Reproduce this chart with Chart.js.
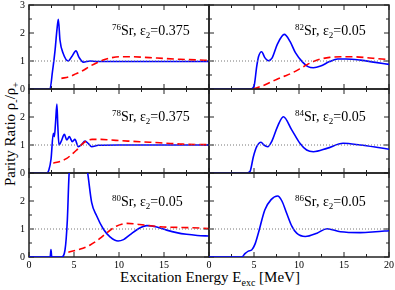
<!DOCTYPE html>
<html>
<head>
<meta charset="utf-8">
<script src="https://cdn.jsdelivr.net/npm/chart.js@4.4.0/dist/chart.umd.min.js"></script>
<style>
   body { margin: 0; background: #fff; }
   #app { position: relative; width: 395px; height: 290px; overflow: hidden; font-family: 'Liberation Serif', serif; color: #000; }
   canvas { position: absolute; left: -20px; top: -20px; }
   .lbl { position: absolute; font-size: 14px; line-height: 1; white-space: nowrap; }
   .lbl sup { font-size: 9px; vertical-align: 5px; }
   .lbl sub { font-size: 9px; vertical-align: -3px; }
   #xtitle { position: absolute; left: 0; width: 420px; text-align: center; top: 270px; font-size: 15px; line-height: 1; }
   #xtitle sub { font-size: 10px; vertical-align: -4px; }
   #ytitle { position: absolute; left: 12px; top: 134px; width: 200px; margin-left: -100px; text-align: center; font-size: 15px; line-height: 1; transform: translateY(-50%) rotate(-90deg); }
   #ytitle sub { font-size: 10px; vertical-align: -4px; }
</style>
</head>
<body>
<div id="app">
   <div id="xtitle">Excitation Energy E<sub>exc</sub> [MeV]</div>
   <div id="ytitle">Parity Ratio &rho;<sub>-</sub>/&rho;<sub>+</sub></div>
</div>
<script>
// 76Sr
const sr76E = [0, 2.33, 2.6, 2.9, 3.1, 3.26, 3.44, 3.8, 4.37, 4.74, 5.22, 5.56, 6.04, 6.8, 7.5, 10, 14, 20];
const sr76Blue = [0, 0, 0.6, 1.4, 2.1, 2.49, 1.75, 1.27, 1.0, 1.15, 1.36, 1.13, 0.96, 1.0, 0.98, 0.98, 0.98, 0.98];
const sr76RedE = [3.6, 4.5, 5.2, 6.0, 6.7, 7.5, 8.4, 9.2, 10, 11.5, 13.4, 15, 16.8, 18.5, 20];
const sr76Red = [0.38, 0.44, 0.54, 0.66, 0.8, 0.93, 1.05, 1.12, 1.15, 1.15, 1.12, 1.09, 1.06, 1.04, 1.02];

// 82Sr
const sr82E = [0, 4.6, 5.0, 5.3, 5.5, 5.85, 6.2, 6.6, 7.0, 7.6, 8.37, 9.0, 9.6, 10.4, 11.0, 11.6, 12.4, 13.4, 14.3, 15.2, 16.8, 18.5, 20];
const sr82Blue = [0, 0, 0.1, 0.8, 1.15, 1.33, 1.12, 1.01, 1.1, 1.6, 1.95, 1.7, 1.3, 0.96, 0.8, 0.76, 0.82, 0.98, 1.07, 1.07, 1.03, 0.95, 0.88];
const sr82RedE = [4.9, 6.0, 7.5, 8.5, 9.4, 10.2, 10.9, 11.6, 12.3, 13.4, 14.6, 16, 17.5, 18.8, 20];
const sr82Red = [0, 0.12, 0.34, 0.47, 0.6, 0.74, 0.87, 0.98, 1.06, 1.13, 1.15, 1.15, 1.12, 1.08, 1.05];

// 78Sr
const sr78E = [0, 1.96, 2.2, 2.45, 2.7, 2.82, 2.95, 3.1, 3.2, 3.33, 3.6, 3.93, 4.2, 4.48, 4.81, 5.1, 5.48, 5.85, 6.22, 6.6, 6.96, 7.7, 10, 20];
const sr78Blue = [0, 0, 0.1, 0.5, 1.42, 1.3, 1.8, 2.46, 1.7, 1.0, 1.15, 1.38, 1.18, 1.3, 1.12, 1.2, 0.94, 1.02, 1.14, 1.05, 0.94, 0.99, 1.0, 1.0];
const sr78RedE = [2.7, 3.5, 4.2, 4.8, 5.3, 6.0, 6.5, 7.0, 8, 9, 11, 13.4, 15, 17.1, 20];
const sr78Red = [0.35, 0.42, 0.52, 0.68, 0.82, 1.06, 1.16, 1.2, 1.2, 1.18, 1.14, 1.1, 1.07, 1.03, 1.01];

// 84Sr
const sr84E = [0, 4.2, 4.55, 4.93, 5.3, 5.78, 6.1, 6.52, 7.0, 7.6, 8.26, 9.19, 10.1, 10.85, 11.6, 13.1, 14.9, 16.8, 18.6, 20];
const sr84Blue = [0, 0, 0.05, 0.58, 0.94, 1.1, 1.0, 0.94, 1.15, 1.65, 2.01, 1.54, 1.06, 0.82, 0.76, 0.88, 1.06, 1.0, 0.92, 0.85];

// 80Sr
const sr80E = [0, 2.35, 2.44, 2.53, 3.63, 4.0, 4.26, 4.44, 4.8, 5.4, 6.0, 6.52, 6.96, 7.5, 8.26, 9.0, 9.9, 10.5, 11.2, 12.2, 13.1, 14.2, 15.3, 16.4, 17.5, 18.7, 20];
const sr80Blue = [0, 0, 0.27, 0, 0, 0.25, 1.32, 2.87, 4.2, 4.7, 4.0, 3.0, 1.95, 1.48, 1.0, 0.72, 0.57, 0.62, 0.79, 1.02, 1.12, 1.07, 0.96, 0.87, 0.81, 0.77, 0.75];
const sr80RedE = [4.37, 5.2, 6.0, 6.8, 7.5, 8.1, 8.6, 9.2, 9.7, 10.3, 10.9, 12.3, 14.6, 17.5, 20];
const sr80Red = [0.17, 0.24, 0.31, 0.43, 0.57, 0.72, 0.85, 1.0, 1.1, 1.17, 1.2, 1.16, 1.08, 1.05, 1.02];

// 86Sr
const sr86E = [0, 3.63, 4.0, 4.37, 4.74, 5.1, 5.48, 6.2, 6.9, 7.63, 8.1, 8.63, 9.2, 9.74, 10.7, 12, 13.1, 14.6, 16.8, 18.5, 20];
const sr86Blue = [0, 0, 0.12, 0.21, 0.25, 0.45, 0.85, 1.68, 2.05, 2.18, 2.0, 1.56, 1.1, 0.85, 0.73, 0.85, 1.01, 0.9, 0.87, 0.9, 0.94];

// dotted reference line at ratio 1
const refE = [0, 20];
const refY = [1, 1];

const xTicks = [0, 5, 10, 15, 20];
const yTicks = [0, 1, 2, 3];

const panels = [
   { col: 0, row: 0, iso: '76', eps: '0.375', e: sr76E, blue: sr76Blue, redE: sr76RedE, red: sr76Red },
   { col: 1, row: 0, iso: '82', eps: '0.05', e: sr82E, blue: sr82Blue, redE: sr82RedE, red: sr82Red },
   { col: 0, row: 1, iso: '78', eps: '0.375', e: sr78E, blue: sr78Blue, redE: sr78RedE, red: sr78Red },
   { col: 1, row: 1, iso: '84', eps: '0.05', e: sr84E, blue: sr84Blue },
   { col: 0, row: 2, iso: '80', eps: '0.05', e: sr80E, blue: sr80Blue, redE: sr80RedE, red: sr80Red },
   { col: 1, row: 2, iso: '86', eps: '0.05', e: sr86E, blue: sr86Blue },
];

const colX = [29, 209, 389];
const rowY = [5, 89, 173, 257];
const font = { family: 'Liberation Serif', size: 10 };
const X_AXIS_H = 16, Y_AXIS_W = 26;

function pts(xs, ys) {
   return xs.map((x, i) => ({ x: x, y: ys[i] }));
}

// box round each panel with inward ticks on all four sides
const frame = {
   id: 'frame',
   beforeDatasetsDraw(chart) {
      const { ctx, chartArea: a } = chart;
      const x = chart.scales.x, y = chart.scales.y;
      ctx.save();
      ctx.strokeStyle = '#222';
      ctx.lineWidth = 1;
      ctx.beginPath();
      for (let v = 0; v <= 20; v += 2.5) {
         const p = x.getPixelForValue(v);
         const len = v % 5 ? 3 : 5;
         ctx.moveTo(p, a.bottom); ctx.lineTo(p, a.bottom - len);
         ctx.moveTo(p, a.top); ctx.lineTo(p, a.top + len);
      }
      for (let v = 0; v <= 3; v += 0.5) {
         const p = y.getPixelForValue(v);
         const len = v % 1 ? 3 : 5;
         ctx.moveTo(a.left, p); ctx.lineTo(a.left + len, p);
         ctx.moveTo(a.right, p); ctx.lineTo(a.right - len, p);
      }
      ctx.stroke();
      ctx.lineWidth = 1.5;
      ctx.strokeRect(a.left, a.top, a.width, a.height);
      ctx.restore();
   }
};

const app = document.getElementById('app');

panels.forEach(p => {
   const canvas = document.createElement('canvas');
   canvas.width = 435;
   canvas.height = 330;
   app.appendChild(canvas);

   const showX = p.row === 2, showY = p.col === 0;

   const datasets = [
      {
         data: pts(refE, refY),
         borderColor: '#777',
         borderWidth: 1,
         borderDash: [1, 2],
         pointRadius: 0,
      },
   ];
   if (p.red) {
      datasets.push({
         data: pts(p.redE, p.red),
         borderColor: '#ff0000',
         borderWidth: 1.6,
         borderDash: [7, 4],
         pointRadius: 0,
         cubicInterpolationMode: 'monotone',
      });
   }
   datasets.push({
      data: pts(p.e, p.blue),
      borderColor: '#0000ff',
      borderWidth: 1.6,
      pointRadius: 0,
      cubicInterpolationMode: 'monotone',
   });

   new Chart(canvas.getContext('2d'), {
      type: 'line',
      data: { datasets: datasets },
      options: {
         responsive: false,
         animation: false,
         devicePixelRatio: 1,
         layout: {
            padding: {
               left: colX[p.col] + 20 - (showY ? Y_AXIS_W : 0),
               right: 395 - colX[p.col + 1] + 20,
               top: rowY[p.row] + 20,
               bottom: 290 - rowY[p.row + 1] + 20 - (showX ? X_AXIS_H : 0),
            }
         },
         plugins: { legend: { display: false }, tooltip: { enabled: false } },
         scales: {
            x: {
               type: 'linear',
               min: 0, max: 20,
               display: showX,
               afterFit: s => { s.height = showX ? X_AXIS_H : 0; },
               grid: { display: false, drawTicks: false },
               border: { display: false },
               afterBuildTicks: s => { s.ticks = xTicks.map(v => ({ value: v })); },
               ticks: {
                  autoSkip: false, maxRotation: 0, padding: 2, color: '#000', font: font,
                  callback: v => (p.col === 0 && v === 20) ? '' : v,
               },
            },
            y: {
               type: 'linear',
               min: 0, max: 3,
               display: showY,
               afterFit: s => { s.width = showY ? Y_AXIS_W : 0; },
               grid: { display: false, drawTicks: false },
               border: { display: false },
               afterBuildTicks: s => { s.ticks = yTicks.map(v => ({ value: v })); },
               ticks: {
                  autoSkip: false, padding: 4, color: '#000', font: font,
                  callback: v => (p.row > 0 && v === 3) ? '' : v,
               },
            },
         },
      },
      plugins: [frame],
   });

   const lbl = document.createElement('div');
   lbl.className = 'lbl';
   lbl.style.left = (p.col === 0 ? 112 : 295) + 'px';
   lbl.style.top = [23, 109, 194][p.row] + 'px';
   lbl.innerHTML = '<sup>' + p.iso + '</sup>Sr, &epsilon;<sub>2</sub>=' + p.eps;
   app.appendChild(lbl);
});
</script>
</body>
</html>
